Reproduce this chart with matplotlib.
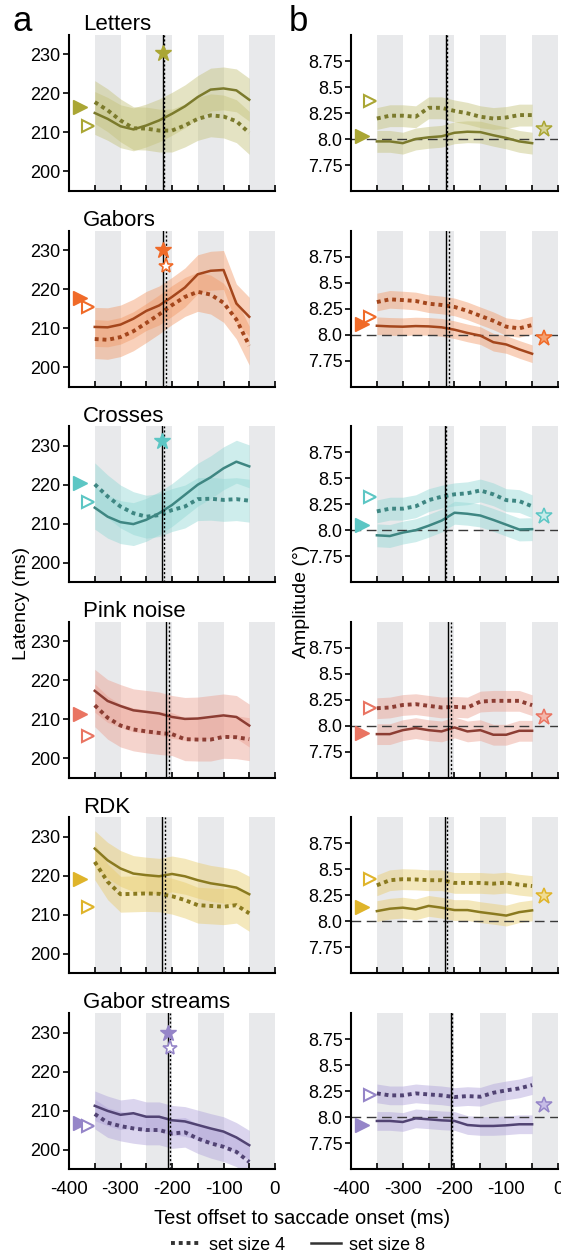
import numpy as np
import matplotlib.pyplot as plt
from matplotlib.lines import Line2D

plt.rcParams['font.family'] = ['Liberation Sans', 'DejaVu Sans']

# test offsets (ms relative to saccade onset)
offsets = [-350, -325, -300, -275, -250, -225, -200, -175, -150, -125, -100, -75, -50]

conditions = ['Letters', 'Gabors', 'Crosses', 'Pink noise', 'RDK', 'Gabor streams']

# latency (ms), set size 8 (solid) and set size 4 (dotted)
letters_lat8 = [215.0, 213.5, 211.6, 210.8, 211.8, 213.1, 214.8, 216.7, 219.1, 221.0, 221.3, 220.8, 218.4]
letters_lat4 = [217.8, 215.7, 213.1, 211.1, 211.0, 210.5, 210.5, 211.8, 213.5, 214.4, 214.1, 212.9, 209.9]
gabors_lat8 = [210.3, 210.2, 210.9, 212.4, 214.4, 215.8, 218.0, 220.4, 223.8, 224.7, 224.9, 216.3, 212.9]
gabors_lat4 = [207.2, 207.0, 207.7, 209.2, 211.3, 213.5, 215.9, 218.0, 219.3, 218.6, 216.5, 212.2, 205.5]
crosses_lat8 = [214.1, 211.8, 210.4, 209.9, 211.0, 212.7, 214.8, 217.4, 220.0, 221.9, 224.2, 225.9, 224.7]
crosses_lat4 = [220.1, 217.0, 214.4, 212.7, 211.8, 212.2, 213.5, 214.4, 216.3, 216.4, 216.1, 216.3, 215.9]
pink_lat8 = [217.3, 214.7, 213.4, 212.3, 211.9, 211.5, 210.6, 210.1, 210.2, 210.6, 211.0, 210.6, 208.4]
pink_lat4 = [213.6, 210.4, 208.4, 207.4, 206.9, 206.5, 206.2, 204.9, 204.8, 204.8, 205.5, 205.4, 204.9]
rdk_lat8 = [227.0, 224.0, 221.9, 220.6, 220.2, 219.9, 220.5, 219.9, 218.9, 218.1, 217.6, 217.0, 215.3]
rdk_lat4 = [223.6, 218.5, 215.3, 215.4, 215.5, 215.4, 214.8, 213.8, 212.5, 212.3, 212.1, 212.5, 210.4]
streams_lat8 = [211.2, 209.9, 208.9, 209.3, 208.4, 208.4, 207.5, 207.2, 206.3, 205.4, 204.6, 203.1, 201.1]
streams_lat4 = [209.1, 206.9, 206.0, 205.4, 205.0, 205.0, 204.1, 204.4, 202.8, 201.6, 200.7, 199.4, 196.8]

# amplitude (deg), set size 8 (solid) and set size 4 (dotted)
letters_amp8 = [7.977, 7.977, 7.960, 8.000, 8.016, 8.026, 8.060, 8.070, 8.066, 8.036, 8.010, 7.977, 7.960]
letters_amp4 = [8.197, 8.224, 8.224, 8.214, 8.300, 8.300, 8.270, 8.247, 8.214, 8.197, 8.207, 8.230, 8.230]
gabors_amp8 = [8.085, 8.079, 8.076, 8.082, 8.079, 8.070, 8.047, 8.016, 7.990, 7.927, 7.905, 7.858, 7.816]
gabors_amp4 = [8.313, 8.339, 8.332, 8.323, 8.297, 8.285, 8.266, 8.228, 8.180, 8.133, 8.076, 8.060, 8.092]
crosses_amp8 = [7.951, 7.944, 7.977, 8.000, 8.043, 8.092, 8.168, 8.158, 8.141, 8.099, 8.053, 8.007, 8.010]
crosses_amp4 = [8.181, 8.207, 8.207, 8.230, 8.289, 8.322, 8.345, 8.355, 8.382, 8.345, 8.289, 8.280, 8.230]
pink_amp8 = [7.920, 7.920, 7.958, 7.978, 7.958, 7.946, 7.984, 7.946, 7.958, 7.914, 7.914, 7.952, 7.952]
pink_amp4 = [8.169, 8.176, 8.200, 8.208, 8.192, 8.176, 8.182, 8.176, 8.233, 8.240, 8.240, 8.240, 8.198]
rdk_amp8 = [8.099, 8.122, 8.132, 8.116, 8.149, 8.132, 8.109, 8.109, 8.089, 8.073, 8.056, 8.089, 8.106]
rdk_amp4 = [8.347, 8.396, 8.406, 8.403, 8.396, 8.396, 8.370, 8.370, 8.370, 8.363, 8.373, 8.353, 8.340]
streams_amp8 = [7.962, 7.962, 7.952, 7.987, 7.978, 7.968, 7.962, 7.923, 7.914, 7.914, 7.920, 7.930, 7.930]
streams_amp4 = [8.227, 8.208, 8.208, 8.227, 8.217, 8.208, 8.192, 8.201, 8.195, 8.233, 8.256, 8.275, 8.307]

# half-widths of the shaded confidence bands
lat_err = [5.5, 5.0, 5.5, 5.5, 4.6, 3.8]
amp_err = [0.105, 0.085, 0.11, 0.1, 0.1, 0.09]

# baseline (no-probe) values shown as triangles: set size 8 filled, set size 4 open
lat_base8 = [216.5, 217.8, 220.4, 211.4, 219.2, 206.7]
lat_base4 = [211.6, 215.5, 215.5, 205.8, 212.1, 205.9]
amp_base8 = [8.03, 8.10, 8.05, 7.93, 8.14, 7.92]
amp_base4 = [8.37, 8.17, 8.32, 8.17, 8.41, 8.21]

# saccade latency markers: set size 8 (solid line) and set size 4 (dotted line)
sacc_lat8 = [-217, -217, -219, -212, -219, -207]
sacc_lat4 = [-215, -211, -216, -206, -214, -204]

# stars: latency panels (None = no star), amplitude panels
star_lat8 = [230.3, 230.0, 231.1, None, None, 230.0]
star_lat4 = [None, 226.0, None, None, None, 226.0]
star_amp = [8.10, 7.97, 8.14, 8.08, 8.24, 8.12]
star_amp_x = -27

marker_colors = ['#aaa634', '#f06a28', '#5cc6c4', '#e97462', '#dfb42a', '#9585c8']
line_colors = ['#7b7a2c', '#a4461c', '#3e8682', '#8c3d33', '#8a7a1f', '#514373']
band_colors = ['#c4c27a', '#f29a68', '#93d8d5', '#eba092', '#e8cc6c', '#b0a3da']
star_fills = ['#d6d49a', '#f5a070', '#c6ecea', '#f4b6aa', '#f0dc94', '#c6bce6']

gray_spans = [(-350, -300), (-250, -200), (-150, -100), (-50, 0)]

W, H = 561, 1256
fig = plt.figure(figsize=(W / 100, H / 100), dpi=100)

lat8 = [letters_lat8, gabors_lat8, crosses_lat8, pink_lat8, rdk_lat8, streams_lat8]
lat4 = [letters_lat4, gabors_lat4, crosses_lat4, pink_lat4, rdk_lat4, streams_lat4]
amp8 = [letters_amp8, gabors_amp8, crosses_amp8, pink_amp8, rdk_amp8, streams_amp8]
amp4 = [letters_amp4, gabors_amp4, crosses_amp4, pink_amp4, rdk_amp4, streams_amp4]

x = np.array(offsets)
dot_style = (0, (1, 1))


def style_axes(ax, ylim, yticks, ylabels, bottom):
    ax.set_xlim(-400, 0)
    ax.set_ylim(*ylim)
    for a, b in gray_spans:
        ax.axvspan(a, b, color='#e8e9eb', lw=0, zorder=0)
    for s in ['top', 'right']:
        ax.spines[s].set_visible(False)
    for s in ['left', 'bottom']:
        ax.spines[s].set_linewidth(1.5)
    ax.set_xticks(np.arange(-400, 1, 50))
    if bottom:
        ax.set_xticklabels(['-400', '', '-300', '', '-200', '', '-100', '', '0'])
    else:
        ax.set_xticklabels([])
    ax.tick_params(axis='x', direction='in', length=4, width=1.2, labelsize=13.5, pad=9)
    ax.set_yticks(yticks)
    ax.set_yticklabels(ylabels)
    ax.tick_params(axis='y', direction='out', length=4, width=1.2, labelsize=13, pad=2)


for i, name in enumerate(conditions):
    top = 35 + i * 195.6
    axl = fig.add_axes([69 / W, 1 - (top + 156) / H, 206 / W, 156 / H])
    axr = fig.add_axes([351 / W, 1 - (top + 156) / H, 207 / W, 156 / H])
    last = i == len(conditions) - 1

    style_axes(axl, (195, 235), [200, 210, 220, 230], ['200', '210', '220', '230'], last)
    style_axes(axr, (7.5, 9.0), [7.75, 8.0, 8.25, 8.5, 8.75],
               ['7.75', '8.0', '8.25', '8.5', '8.75'], last)

    # latency panel
    y8 = np.array(lat8[i])
    y4 = np.array(lat4[i])
    e = lat_err[i]
    axl.fill_between(x, y8 - e, y8 + e, color=band_colors[i], alpha=0.45, lw=0, zorder=1)
    axl.fill_between(x, y4 - e, y4 + e, color=band_colors[i], alpha=0.45, lw=0, zorder=1)
    axl.plot(x, y8, color=line_colors[i], lw=1.8, zorder=3)
    axl.plot(x, y4, color=line_colors[i], lw=2.8, ls=dot_style, zorder=3)
    axl.plot(-379, lat_base8[i], marker='>', ms=10, color=marker_colors[i], mec=marker_colors[i],
             clip_on=False, zorder=4)
    axl.plot(-364, lat_base4[i], marker='>', ms=9, mfc='white', mec=marker_colors[i], mew=1.5,
             clip_on=False, zorder=4)

    # amplitude panel
    a8 = np.array(amp8[i])
    a4 = np.array(amp4[i])
    e = amp_err[i]
    axr.axhline(8.0, color='#3a3a3a', lw=1.0, dashes=(7, 4), zorder=2)
    axr.fill_between(x, a8 - e, a8 + e, color=band_colors[i], alpha=0.45, lw=0, zorder=1)
    axr.fill_between(x, a4 - e, a4 + e, color=band_colors[i], alpha=0.45, lw=0, zorder=1)
    axr.plot(x, a8, color=line_colors[i], lw=1.8, zorder=3)
    axr.plot(x, a4, color=line_colors[i], lw=2.8, ls=dot_style, zorder=3)
    axr.plot(-379, amp_base8[i], marker='>', ms=10, color=marker_colors[i], mec=marker_colors[i],
             clip_on=False, zorder=4)
    axr.plot(-363, amp_base4[i], marker='>', ms=9, mfc='white', mec=marker_colors[i], mew=1.5,
             clip_on=False, zorder=4)
    axr.plot(star_amp_x, star_amp[i], marker='*', ms=12, mfc=star_fills[i], mec=marker_colors[i],
             mew=1.1, zorder=4)

    for ax in (axl, axr):
        ax.axvline(sacc_lat8[i], color='black', lw=1.0, zorder=3.5)
        ax.axvline(sacc_lat4[i], color='black', lw=1.0, ls=(0, (1.5, 1.5)), zorder=3.5)

    if star_lat8[i] is not None:
        axl.plot(sacc_lat8[i], star_lat8[i], marker='*', ms=12, color=marker_colors[i], zorder=5)
    if star_lat4[i] is not None:
        axl.plot(sacc_lat4[i], star_lat4[i], marker='*', ms=11, mfc='white',
                 mec=marker_colors[i], mew=1.2, zorder=5)

    axl.text(0.068, 1.03, name, transform=axl.transAxes, fontsize=16, ha='left', va='baseline')

fig.text(12 / W, 1 - 31 / H, 'a', fontsize=25, ha='left', va='baseline')
fig.text(289 / W, 1 - 31 / H, 'b', fontsize=25, ha='left', va='baseline')
fig.text(22 / W, 1 - 603 / H, 'Latency (ms)', fontsize=14, rotation=90, ha='center', va='center')
fig.text(301 / W, 1 - 601 / H, 'Amplitude (°)', fontsize=14, rotation=90, ha='center', va='center')
fig.text(302 / W, 1 - 1218 / H, 'Test offset to saccade onset (ms)', fontsize=14.5,
         ha='center', va='center')

handles = [Line2D([], [], color='#333333', lw=2.8, ls=dot_style),
           Line2D([], [], color='#333333', lw=1.8)]
fig.legend(handles, ['set size 4', 'set size 8'], loc='center', ncol=2, frameon=False,
           bbox_to_anchor=(298 / W, 1 - 1245 / H), fontsize=13, handlelength=1.7,
           handletextpad=0.4, columnspacing=1.4)

fig.savefig('out.png', dpi=100)
